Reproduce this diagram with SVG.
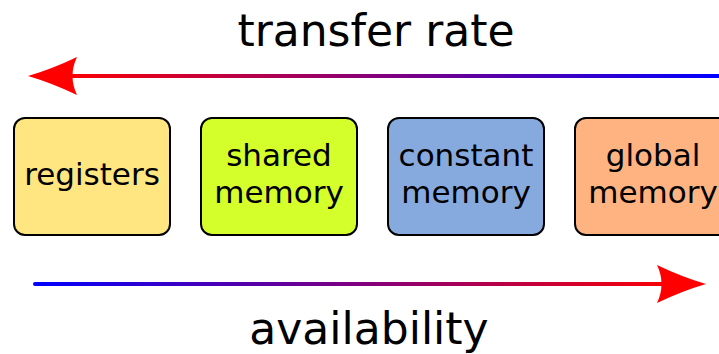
<svg xmlns="http://www.w3.org/2000/svg" width="719" height="354" viewBox="0 0 719 354">
<defs>
<linearGradient id="gTop" gradientUnits="userSpaceOnUse" x1="60" y1="0" x2="719" y2="0">
<stop offset="0" stop-color="#ff0000"/>
<stop offset="1" stop-color="#0000ff"/>
</linearGradient>
<linearGradient id="gBot" gradientUnits="userSpaceOnUse" x1="33" y1="0" x2="680" y2="0">
<stop offset="0" stop-color="#0000ff"/>
<stop offset="1" stop-color="#ff0000"/>
</linearGradient>
<style>
.box{stroke:#000;stroke-width:2}
.lbl{font-family:"DejaVu Sans",sans-serif;font-size:31px;text-anchor:middle;fill:#000}
.title{font-family:"DejaVu Sans",sans-serif;font-size:44px;text-anchor:middle;fill:#000}
.head{fill:#ff0000}
</style>
</defs>
<text class="title" x="376" y="46">transfer rate</text>
<text class="title" x="369" y="344">availability</text>
<g id="connectors">
<g id="transfer-arrow">
<line x1="70" y1="76" x2="725" y2="76" stroke="url(#gTop)" stroke-width="4"/>
<path class="head" d="M28,76 Q52,69 77,57 Q68,76 77,95 Q52,83 28,76 Z"/>
</g>
<g id="availability-arrow">
<line x1="35" y1="284" x2="665" y2="284" stroke="url(#gBot)" stroke-width="4" stroke-linecap="round"/>
<path class="head" d="M706,284 Q682,277 657,265 Q666,284 657,303 Q682,291 706,284 Z"/>
</g>
</g>
<g id="registers">
<rect class="box" x="14" y="118" width="156" height="117" rx="11" fill="#ffe680"/>
<text class="lbl" x="92" y="185">registers</text>
</g>
<g id="shared-memory">
<rect class="box" x="201" y="118" width="156" height="117" rx="11" fill="#d4ff2a"/>
<text class="lbl" x="279" y="166">shared</text>
<text class="lbl" x="279" y="203">memory</text>
</g>
<g id="constant-memory">
<rect class="box" x="388" y="118" width="156" height="117" rx="11" fill="#87aade"/>
<text class="lbl" x="466" y="166">constant</text>
<text class="lbl" x="466" y="203">memory</text>
</g>
<g id="global-memory">
<rect class="box" x="575" y="118" width="156" height="117" rx="11" fill="#ffb380"/>
<text class="lbl" x="653" y="166">global</text>
<text class="lbl" x="653" y="203">memory</text>
</g>
</svg>
